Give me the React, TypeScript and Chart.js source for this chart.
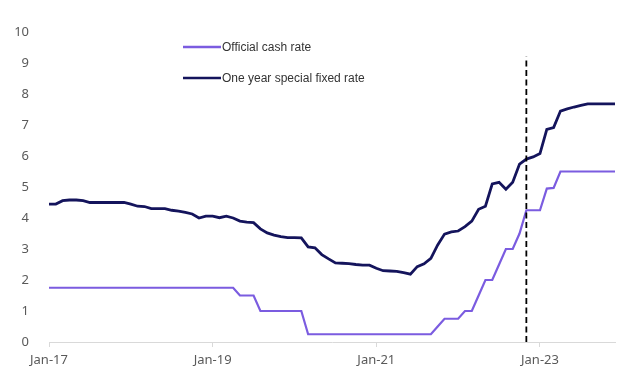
import React, { useEffect, useRef } from "react";
import { Chart, registerables } from "chart.js";

Chart.register(...registerables);

const MONTHS = ["Jan", "Feb", "Mar", "Apr", "May", "Jun", "Jul", "Aug", "Sep", "Oct", "Nov", "Dec"];
const YEARS = ["17", "18", "19", "20", "21", "22", "23"];
const LABELS: string[] = [];
YEARS.forEach((y) => MONTHS.forEach((m) => LABELS.push(`${m}-${y}`)));

const SHOWN_TICKS = ["Jan-17", "Jan-19", "Jan-21", "Jan-23"];

// Official cash rate, Jan-17 .. Dec-23
const CASH_RATE = [
  1.75, 1.75, 1.75, 1.75, 1.75, 1.75, 1.75, 1.75, 1.75, 1.75, 1.75, 1.75,
  1.75, 1.75, 1.75, 1.75, 1.75, 1.75, 1.75, 1.75, 1.75, 1.75, 1.75, 1.75,
  1.75, 1.75, 1.75, 1.75, 1.5, 1.5, 1.5, 1.0, 1.0, 1.0, 1.0, 1.0,
  1.0, 1.0, 0.25, 0.25, 0.25, 0.25, 0.25, 0.25, 0.25, 0.25, 0.25, 0.25,
  0.25, 0.25, 0.25, 0.25, 0.25, 0.25, 0.25, 0.25, 0.25, 0.5, 0.75, 0.75,
  0.75, 1.0, 1.0, 1.5, 2.0, 2.0, 2.5, 3.0, 3.0, 3.5, 4.25, 4.25,
  4.25, 4.95, 4.97, 5.5, 5.5, 5.5, 5.5, 5.5, 5.5, 5.5, 5.5, 5.5,
];

// One year special fixed rate, Jan-17 .. Dec-23
const FIXED_RATE = [
  4.45, 4.45, 4.56, 4.58, 4.58, 4.56, 4.5, 4.5, 4.5, 4.5, 4.5, 4.5,
  4.45, 4.38, 4.37, 4.3, 4.3, 4.3, 4.25, 4.22, 4.18, 4.13, 4.0, 4.06,
  4.06, 4.01, 4.06, 4.0, 3.9, 3.87, 3.85, 3.65, 3.52, 3.45, 3.4, 3.37,
  3.37, 3.36, 3.07, 3.04, 2.82, 2.68, 2.55, 2.54, 2.53, 2.5, 2.48, 2.48,
  2.38, 2.3, 2.29, 2.28, 2.24, 2.19, 2.43, 2.52, 2.7, 3.13, 3.48, 3.55,
  3.58, 3.72, 3.9, 4.28, 4.38, 5.1, 5.15, 4.93, 5.15, 5.74, 5.9, 5.97,
  6.08, 6.86, 6.92, 7.45, 7.52, 7.58, 7.63, 7.68, 7.68, 7.68, 7.68, 7.68,
];

const MARKER_MONTH = "Nov-22";
const MARKER_RANGE = [0, 9.2];

const SERIES_NAMES = ["Official cash rate", "One year special fixed rate"];
const COLORS = ["#7b5ce0", "#14145c"];

const legendPlugin = {
  id: "customLegend",
  afterDraw(chart: any) {
    const ctx = chart.ctx;
    ctx.save();
    const rows = [47, 78];
    SERIES_NAMES.forEach((name, i) => {
      const y = rows[i];
      ctx.strokeStyle = COLORS[i];
      ctx.lineWidth = 2.5;
      ctx.beginPath();
      ctx.moveTo(183, y);
      ctx.lineTo(221, y);
      ctx.stroke();
      ctx.fillStyle = "#333333";
      ctx.font = "12px 'Liberation Sans', Arial, sans-serif";
      ctx.textBaseline = "middle";
      ctx.textAlign = "left";
      ctx.fillText(name, 222, y + 0.5);
    });
    ctx.restore();
  },
};

export default function App() {
  const ref = useRef<HTMLCanvasElement | null>(null);
  useEffect(() => {
    if (!ref.current) return;
    const chart = new Chart(ref.current, {
      type: "line",
      data: {
        labels: LABELS,
        datasets: [
          {
            label: SERIES_NAMES[0],
            data: CASH_RATE,
            borderColor: COLORS[0],
            borderWidth: 2.2,
            pointRadius: 0,
            tension: 0,
            order: 2,
          },
          {
            label: SERIES_NAMES[1],
            data: FIXED_RATE,
            borderColor: COLORS[1],
            borderWidth: 2.8,
            pointRadius: 0,
            tension: 0,
            order: 1,
          },
          {
            label: "marker",
            data: [
              { x: MARKER_MONTH, y: MARKER_RANGE[0] },
              { x: MARKER_MONTH, y: MARKER_RANGE[1] },
            ] as any,
            borderColor: "#000000",
            borderWidth: 1.8,
            borderDash: [6, 3.5],
            pointRadius: 0,
            order: 0,
          },
        ],
      },
      options: {
        animation: false,
        responsive: false,
        maintainAspectRatio: false,
        layout: { padding: { left: 8, top: 32, right: 17, bottom: 18 } },
        plugins: {
          legend: { display: false },
          tooltip: { enabled: false },
        },
        scales: {
          x: {
            type: "category",
            offset: false,
            grid: {
              display: true,
              drawOnChartArea: false,
              drawTicks: true,
              tickLength: 5,
              color: "#d9d9d9",
            },
            border: { display: true, color: "#d9d9d9", width: 1 },
            afterBuildTicks: (scale: any) => {
              scale.ticks = scale.ticks.filter((t: any) =>
                SHOWN_TICKS.includes(LABELS[t.value])
              );
            },
            afterFit: (scale: any) => {
              scale.height = 30;
            },
            ticks: {
              autoSkip: false,
              maxRotation: 0,
              minRotation: 0,
              padding: 5,
              color: "#595959",
              font: { family: "'Noto Sans', sans-serif", size: 13 },
              callback: function (this: any, value: any) {
                return LABELS[value];
              },
            },
          },
          y: {
            min: 0,
            max: 10,
            grid: { display: false },
            border: { display: false },
            afterFit: (scale: any) => {
              scale.width = 41;
            },
            ticks: {
              stepSize: 1,
              padding: 12,
              color: "#595959",
              font: { family: "'Noto Sans', sans-serif", size: 13 },
            },
          },
        },
      },
      plugins: [legendPlugin],
    });
    return () => chart.destroy();
  }, []);

  return (
    <div style={{ position: "absolute", left: 0, top: 0, width: 632, height: 390, background: "#ffffff" }}>
      <canvas ref={ref} width={632} height={390} style={{ width: 632, height: 390 }} />
    </div>
  );
}
